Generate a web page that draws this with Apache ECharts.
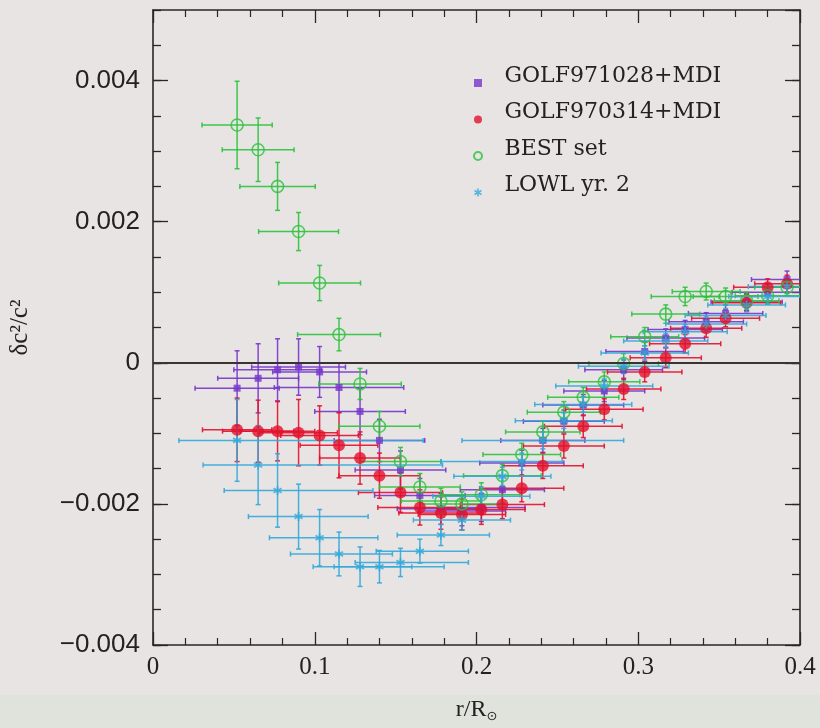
<!DOCTYPE html>
<html>
<head>
<meta charset="utf-8">
<script src="https://cdn.jsdelivr.net/npm/echarts@6/dist/echarts.min.js"></script>
<style>
  html, body { margin: 0; padding: 0; background: #e8e4e4; }
  #chart { width: 820px; height: 728px; }
</style>
</head>
<body>
<div id="chart"></div>
<script>
// r/R_sun of the inversion points (shared by all four sets)
const RADIUS = [0.052, 0.065, 0.077, 0.090, 0.103, 0.115, 0.128, 0.140, 0.153, 0.165,
  0.178, 0.191, 0.203, 0.216, 0.228, 0.241, 0.254, 0.266, 0.279, 0.291,
  0.304, 0.317, 0.329, 0.342, 0.354, 0.367, 0.380, 0.392];

// GOLF971028+MDI
const G1028_DC = [-0.00036, -0.00022, -0.00010, -0.00006, -0.00013, -0.00035, -0.00069, -0.00110, -0.00152, -0.00188,
  -0.00207, -0.00210, -0.00205, -0.00180, -0.00142, -0.00110, -0.00083, -0.00060, -0.00040, -0.00010,
  0.00016, 0.00035, 0.00047, 0.00058, 0.00070, 0.00086, 0.00100, 0.00118];
const G1028_DC_ERR = [0.00053, 0.00049, 0.00044, 0.00040, 0.00036, 0.00035, 0.00033, 0.00030, 0.00027, 0.00024,
  0.00022, 0.00021, 0.00020, 0.00019, 0.00018, 0.00017, 0.00016, 0.00015, 0.00015, 0.00014,
  0.00014, 0.00013, 0.00013, 0.00013, 0.00012, 0.00012, 0.00012, 0.00012];
const G1028_R_ERR = [0.026, 0.025, 0.027, 0.029, 0.029, 0.040, 0.028, 0.028, 0.028, 0.028,
  0.027, 0.027, 0.027, 0.026, 0.026, 0.026, 0.025, 0.025, 0.025, 0.024,
  0.024, 0.024, 0.023, 0.023, 0.023, 0.022, 0.022, 0.022];

// GOLF970314+MDI
const G0314_DC = [-0.00095, -0.00097, -0.00097, -0.00099, -0.00103, -0.00117, -0.00135, -0.00160, -0.00184, -0.00205,
  -0.00213, -0.00215, -0.00208, -0.00201, -0.00178, -0.00146, -0.00118, -0.00090, -0.00066, -0.00037,
  -0.00013, 0.00007, 0.00027, 0.00049, 0.00063, 0.00085, 0.00107, 0.00112];
const G0314_DC_ERR = [0.00045, 0.00044, 0.00042, 0.00047, 0.00042, 0.00046, 0.00037, 0.00032, 0.00028, 0.00025,
  0.00023, 0.00022, 0.00021, 0.00020, 0.00019, 0.00018, 0.00017, 0.00016, 0.00015, 0.00015,
  0.00014, 0.00014, 0.00013, 0.00013, 0.00012, 0.00012, 0.00012, 0.00012];
const G0314_R_ERR = [0.0214, 0.022, 0.023, 0.024, 0.024, 0.024, 0.025, 0.025, 0.026, 0.026,
  0.026, 0.027, 0.027, 0.026, 0.026, 0.025, 0.025, 0.024, 0.024, 0.023,
  0.023, 0.022, 0.022, 0.022, 0.021, 0.021, 0.021, 0.020];

// BEST set
const BEST_DC = [0.00337, 0.00302, 0.00250, 0.00186, 0.00113, 0.00040, -0.00030, -0.00090, -0.00140, -0.00176,
  -0.00196, -0.00200, -0.00187, -0.00160, -0.00130, -0.00098, -0.00070, -0.00049, -0.00027, -0.00001,
  0.00037, 0.00069, 0.00094, 0.00101, 0.00094, 0.00088, 0.00095, 0.00107];
const BEST_DC_ERR = [0.00062, 0.00045, 0.00034, 0.00027, 0.00025, 0.00023, 0.00022, 0.00021, 0.00020, 0.00019,
  0.00018, 0.00017, 0.00017, 0.00016, 0.00016, 0.00015, 0.00015, 0.00014, 0.00014, 0.00014,
  0.00013, 0.00013, 0.00013, 0.00012, 0.00012, 0.00012, 0.00012, 0.00012];
const BEST_R_ERR = [0.0217, 0.0222, 0.0233, 0.0247, 0.0253, 0.0256, 0.0255, 0.025, 0.025, 0.025,
  0.0245, 0.0245, 0.024, 0.024, 0.024, 0.023, 0.0226, 0.022, 0.022, 0.0215,
  0.021, 0.021, 0.021, 0.021, 0.020, 0.020, 0.020, 0.020];

// LOWL yr. 2
const LOWL_DC = [-0.00110, -0.00145, -0.00181, -0.00218, -0.00248, -0.00271, -0.00289, -0.00289, -0.00283, -0.00267,
  -0.00244, -0.00223, -0.00189, -0.00161, -0.00140, -0.00110, -0.00082, -0.00059, -0.00033, -0.00005,
  0.00014, 0.00031, 0.00044, 0.00055, 0.00067, 0.00082, 0.00094, 0.00108];
const LOWL_DC_ERR = [0.00058, 0.00056, 0.00052, 0.00046, 0.00040, 0.00031, 0.00028, 0.00023, 0.00020, 0.00017,
  0.00015, 0.00014, 0.00013, 0.00013, 0.00012, 0.00012, 0.00011, 0.00011, 0.00010, 0.00010,
  0.00010, 0.00010, 0.00010, 0.00010, 0.00010, 0.00010, 0.00010, 0.00010];
const LOWL_R_ERR_LO = [0.036, 0.034, 0.033, 0.031, 0.031, 0.030, 0.029, 0.028, 0.028, 0.027,
  0.027, 0.030, 0.030, 0.030, 0.050, 0.050, 0.030, 0.030, 0.030, 0.028,
  0.027, 0.026, 0.026, 0.025, 0.025, 0.024, 0.024, 0.024];
const LOWL_R_ERR_HI = [0.115, 0.114, 0.059, 0.043, 0.036, 0.033, 0.032, 0.040, 0.042, 0.030,
  0.030, 0.030, 0.030, 0.030, 0.025, 0.050, 0.030, 0.030, 0.030, 0.028,
  0.027, 0.026, 0.026, 0.025, 0.025, 0.024, 0.024, 0.024];

const PURPLE = "#7536cc";
const RED = "#e4102c";
const GREEN = "#2cc23c";
const CYAN = "#33a9d9";
const AX = "#2a2626";

const SQUARE = "path://M0,0L1,0L1,1L0,1Z";
const ASTERISK = "path://M-1,-5L1,-5L1,5L-1,5Z M3.83,-3.366L4.83,-1.634L-3.83,3.366L-4.83,1.634Z M4.83,1.634L3.83,3.366L-4.83,-1.634L-3.83,-3.366Z";

function rows(dc, dcErr, lo, hi) {
  return RADIUS.map((r, i) => [r, dc[i], lo[i], hi[i], dcErr[i]]);
}

function errorBars(color) {
  return function (params, api) {
    const x = api.value(0);
    const y = api.value(1);
    const a = api.coord([x - api.value(2), y]);
    const b = api.coord([x + api.value(3), y]);
    const c = api.coord([x, y + api.value(4)]);
    const d = api.coord([x, y - api.value(4)]);
    const cap = 2.5;
    const style = { stroke: color, lineWidth: 1.5, opacity: 0.9 };
    const seg = (x1, y1, x2, y2) => ({ type: "line", shape: { x1, y1, x2, y2 }, style });
    return {
      type: "group",
      children: [
        seg(a[0], a[1], b[0], b[1]),
        seg(a[0], a[1] - cap, a[0], a[1] + cap),
        seg(b[0], b[1] - cap, b[0], b[1] + cap),
        seg(c[0], c[1], d[0], d[1]),
        seg(c[0] - cap, c[1], c[0] + cap, c[1]),
        seg(d[0] - cap, d[1], d[0] + cap, d[1]),
      ],
    };
  };
}

const sets = [
  { name: "GOLF971028+MDI", color: PURPLE, data: rows(G1028_DC, G1028_DC_ERR, G1028_R_ERR, G1028_R_ERR),
    symbol: SQUARE, size: 7, itemStyle: { color: PURPLE } },
  { name: "GOLF970314+MDI", color: RED, data: rows(G0314_DC, G0314_DC_ERR, G0314_R_ERR, G0314_R_ERR),
    symbol: "circle", size: 12, itemStyle: { color: RED } },
  { name: "BEST set", color: GREEN, data: rows(BEST_DC, BEST_DC_ERR, BEST_R_ERR, BEST_R_ERR),
    symbol: "circle", size: 12, itemStyle: { color: "rgba(0,0,0,0)", borderColor: GREEN, borderWidth: 1.6 } },
  { name: "LOWL yr. 2", color: CYAN, data: rows(LOWL_DC, LOWL_DC_ERR, LOWL_R_ERR_LO, LOWL_R_ERR_HI),
    symbol: ASTERISK, size: 9, itemStyle: { color: CYAN } },
];

const series = [];
sets.forEach((s, idx) => {
  series.push({
    name: s.name + " bars",
    type: "custom",
    renderItem: errorBars(s.color),
    data: s.data,
    encode: { x: 0, y: 1 },
    clip: true,
    silent: true,
  });
  const scatter = {
    name: s.name,
    type: "scatter",
    data: s.data.map((d) => [d[0], d[1]]),
    symbol: s.symbol,
    symbolSize: s.size,
    itemStyle: s.itemStyle,
    silent: true,
  };
  if (idx === 0) {
    scatter.markLine = {
      silent: true,
      symbol: ["none", "none"],
      label: { show: false },
      lineStyle: { color: "#3a3333", width: 2, type: "solid" },
      data: [{ yAxis: 0 }],
    };
  }
  series.push(scatter);
});

function yLabel(v) {
  if (Math.abs(v) < 1e-9) return "0";
  return (v < 0 ? "\u2212" : "") + Math.abs(v).toFixed(3);
}

const baseY = { type: "value", min: -0.004, max: 0.005, splitLine: { show: false } };
const baseX = { type: "value", min: 0, max: 0.4, interval: 0.1, splitLine: { show: false } };
const tickMajor = (len) => ({ show: true, inside: true, length: len, lineStyle: { color: AX, width: 1.3 } });
const boxLine = { show: true, onZero: false, lineStyle: { color: AX, width: 1.6 } };
const noLine = { show: false, onZero: false };

const chart = echarts.init(document.getElementById("chart"), null, { renderer: "canvas" });
chart.setOption({
  backgroundColor: "#e8e4e4",
  animation: false,
  graphic: [
    { type: "rect", z: -10, shape: { x: 0, y: 695, width: 820, height: 33 }, style: { fill: "#dfe3dc" } },
  ],
  grid: { left: 152, right: 20, top: 10, bottom: 74 },
  legend: {
    orient: "vertical",
    left: 473,
    top: 65,
    padding: 0,
    itemGap: 0.5,
    itemWidth: 31,
    itemHeight: 8,
    data: sets.map((s) => s.name),
    formatter: (name) => "{t|" + name + "}",
    textStyle: {
      rich: {
        t: { fontFamily: "DejaVu Serif", fontSize: 22, color: "#222", lineHeight: 22, padding: [0, 0, 14, 6] },
      },
    },
  },
  xAxis: [
    Object.assign({}, baseX, {
      position: "bottom",
      axisLine: boxLine,
      axisTick: tickMajor(13),
      minorTick: { show: true, splitNumber: 5, length: 7, lineStyle: { color: AX, width: 1.2 } },
      axisLabel: { fontFamily: "Liberation Serif", fontSize: 25, color: "#222", margin: 10 },
      name: "{a|r/R}{b|\u2299}",
      nameLocation: "middle",
      nameGap: 51,
      nameTextStyle: {
        rich: {
          a: { fontFamily: "Liberation Serif", fontSize: 24, color: "#222" },
          b: { fontFamily: "DejaVu Sans", fontSize: 13, color: "#222", padding: [14, 0, 0, 0] },
        },
      },
    }),
    Object.assign({}, baseX, {
      position: "top",
      axisLine: boxLine,
      axisTick: tickMajor(13),
      minorTick: { show: true, splitNumber: 5, length: 7, lineStyle: { color: AX, width: 1.2 } },
      axisLabel: { show: false },
    }),
  ],
  yAxis: [
    Object.assign({}, baseY, {
      position: "left",
      interval: 0.002,
      axisLine: boxLine,
      axisTick: tickMajor(15),
      axisLabel: { fontFamily: "Liberation Sans", fontSize: 26, color: "#222", margin: 13, showMaxLabel: false, formatter: yLabel },
      name: "\u03b4c\u00b2/c\u00b2",
      nameLocation: "middle",
      nameGap: 120,
      nameRotate: 90,
      nameTextStyle: { fontFamily: "Liberation Serif", fontSize: 25, color: "#222" },
    }),
    Object.assign({}, baseY, {
      position: "left",
      offset: 0,
      interval: 0.0005,
      axisLine: noLine,
      axisTick: tickMajor(8),
      axisLabel: { show: false },
    }),
    Object.assign({}, baseY, {
      position: "right",
      interval: 0.002,
      axisLine: boxLine,
      axisTick: tickMajor(15),
      axisLabel: { show: false },
    }),
    Object.assign({}, baseY, {
      position: "right",
      offset: 0,
      interval: 0.0005,
      axisLine: noLine,
      axisTick: tickMajor(8),
      axisLabel: { show: false },
    }),
  ],
  series,
});
</script>
</body>
</html>
